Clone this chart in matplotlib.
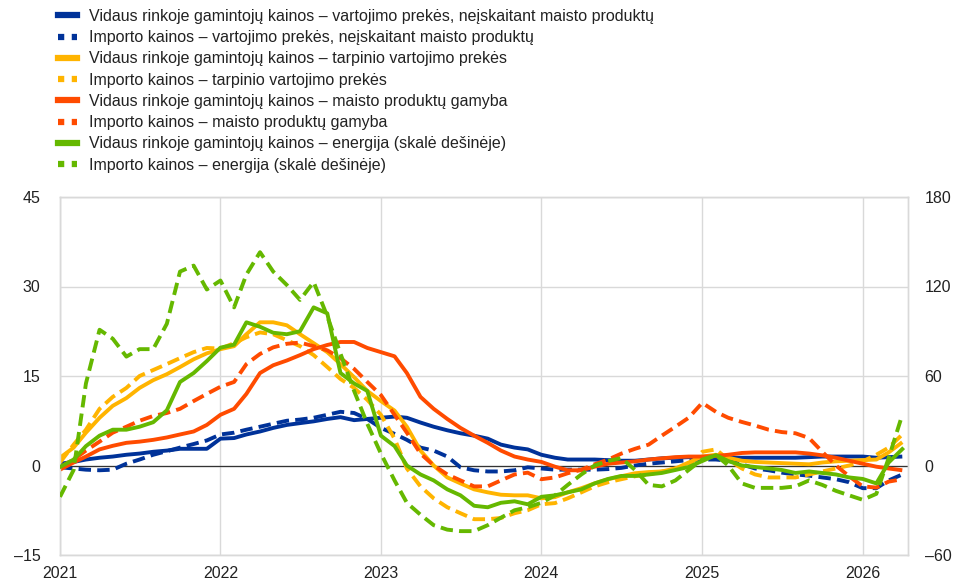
import matplotlib
matplotlib.use("Agg")
import matplotlib.pyplot as plt
import matplotlib.dates as mdates
from matplotlib.lines import Line2D
import pandas as pd

plt.rcParams['font.family'] = ['Liberation Sans', 'DejaVu Sans']

months = pd.date_range('2021-01-01', periods=64, freq='MS')

# Left scale (%)
dom_consumer = [0.3, 0.6, 1.0, 1.3, 1.5, 1.8, 2.0, 2.3, 2.5, 2.8, 2.8, 2.8,
                4.5, 4.6, 5.2, 5.7, 6.3, 6.8, 7.1, 7.4, 7.8, 8.1, 7.6, 7.8,
                8.0, 8.2, 8.0, 7.2, 6.5, 5.9, 5.4, 5.0, 4.5, 3.5, 3.0, 2.7,
                1.8, 1.3, 1.0, 1.0, 1.0, 0.9, 0.8, 0.8, 1.0, 1.2, 1.3, 1.4,
                1.3, 1.3, 1.3, 1.3, 1.3, 1.3, 1.3, 1.3, 1.4, 1.5, 1.5, 1.5,
                1.5, 1.3, 1.4, 1.5]
imp_consumer = [-0.3, -0.5, -0.7, -0.8, -0.7, 0.3, 1.0, 1.8, 2.4, 3.0, 3.6, 4.2,
                5.2, 5.5, 6.0, 6.5, 7.0, 7.5, 7.7, 8.0, 8.5, 9.0, 8.8, 7.8,
                6.3, 5.3, 4.3, 3.0, 2.5, 1.5, -0.3, -0.8, -1.0, -1.0, -0.8, -0.3,
                -0.5, -0.7, -0.7, -0.7, -0.7, -0.6, -0.4, 0.0, 0.3, 0.5, 0.7, 0.9,
                1.0, 1.0, 0.8, 0.2, -0.5, -0.8, -1.2, -1.5, -1.7, -2.0, -2.3, -2.8,
                -3.8, -3.8, -2.5, -1.5]
dom_intermediate = [1.3, 3.0, 5.5, 8.0, 10.0, 11.3, 13.0, 14.3, 15.3, 16.5, 17.8, 18.8,
                    19.5, 20.0, 22.0, 24.0, 24.0, 23.5, 22.0, 20.5, 19.0, 17.0, 14.8, 12.5,
                    10.8, 9.2, 6.5, 2.5, 0.0, -2.0, -3.0, -4.0, -4.5, -4.9, -5.0, -5.0,
                    -5.5, -5.3, -4.5, -3.8, -3.0, -2.3, -1.8, -1.3, -1.1, -1.0, -0.5, 0.5,
                    1.5, 1.8, 1.3, 0.8, 0.6, 0.5, 0.4, 0.3, 0.2, 0.5, 0.7, 0.8,
                    0.9, 1.0, 2.2, 3.9]
imp_intermediate = [0.5, 3.5, 6.0, 9.5, 11.5, 13.0, 15.0, 16.0, 17.0, 18.0, 19.0, 19.7,
                    19.6, 20.5, 21.5, 22.3, 22.0, 21.0, 20.0, 18.5, 16.5, 14.5, 13.0, 11.0,
                    8.5, 4.5, -0.5, -3.5, -5.5, -7.0, -8.0, -9.0, -9.0, -8.8, -8.0, -7.5,
                    -6.5, -6.3, -5.5, -4.5, -3.5, -2.8, -2.3, -1.8, -1.5, -1.0, -0.5, 0.0,
                    2.3, 2.7, 1.0, -0.5, -1.5, -2.0, -2.0, -2.0, -1.5, -1.0, -0.5, 0.0,
                    0.7, 1.8, 3.0, 5.2]
dom_food = [-0.7, 0.5, 1.5, 2.7, 3.3, 3.8, 4.0, 4.3, 4.7, 5.2, 5.7, 6.8,
            8.5, 9.5, 12.0, 15.5, 16.8, 17.6, 18.5, 19.5, 20.2, 20.7, 20.7, 19.7,
            19.0, 18.3, 15.5, 11.5, 9.5, 7.8, 6.3, 5.0, 3.8, 2.5, 1.5, 1.0,
            0.6, -0.2, -0.8, -0.8, -0.2, 0.3, 0.5, 0.7, 1.0, 1.2, 1.4, 1.5,
            1.5, 1.6, 1.8, 2.1, 2.2, 2.2, 2.2, 2.2, 2.0, 1.7, 1.3, 0.8,
            0.3, -0.2, -0.5, -0.8]
imp_food = [-0.3, 1.0, 2.5, 4.0, 5.5, 6.5, 7.5, 8.3, 8.8, 9.5, 10.8, 12.0,
            13.2, 14.0, 17.0, 18.7, 19.8, 20.4, 20.6, 20.0, 19.3, 18.0, 16.2, 14.0,
            11.8, 8.5, 5.5, 2.0, 0.0, -1.5, -2.5, -3.5, -3.5, -2.5, -1.5, -1.2,
            -2.3, -2.0, -1.3, -0.7, 0.2, 1.0, 2.0, 2.8, 3.5, 5.0, 6.5, 8.0,
            10.5, 9.0, 8.0, 7.3, 6.7, 6.0, 5.6, 5.4, 4.6, 2.3, 0.0, -1.8,
            -3.5, -3.7, -2.7, -2.3]
# Right scale (%)
dom_energy = [-1, 4, 13, 20, 24, 24, 26, 29, 37, 56, 62, 70,
              79, 81, 96, 93, 89, 88, 90, 106, 102, 62, 55, 50,
              20, 13, 0, -6, -10, -16, -20, -27, -28, -25, -24, -26,
              -21, -20, -18, -16, -12, -9, -7, -7, -6, -5, -3, -1,
              3, 7, 3, 0, -1, -2, -3, -5, -4, -5, -6, -8,
              -9, -12, 2, 11]
imp_energy = [-21, -3, 55, 91, 85, 73, 78, 78, 95, 130, 134, 118,
              124, 106, 128, 143, 130, 121, 111, 123, 100, 75, 50, 28,
              8, -10, -25, -33, -40, -43, -44, -44, -40, -35, -30, -28,
              -25, -20, -13, -6, 0, 3, 5, -3, -13, -14, -10, -3,
              4, 7, 0, -12, -15, -15, -15, -14, -10, -13, -17, -20,
              -23, -19, 5, 34]

labels = [
    "Vidaus rinkoje gamintojų kainos – vartojimo prekės, neįskaitant maisto produktų",
    "Importo kainos – vartojimo prekės, neįskaitant maisto produktų",
    "Vidaus rinkoje gamintojų kainos – tarpinio vartojimo prekės",
    "Importo kainos – tarpinio vartojimo prekės",
    "Vidaus rinkoje gamintojų kainos – maisto produktų gamyba",
    "Importo kainos – maisto produktų gamyba",
    "Vidaus rinkoje gamintojų kainos – energija (skalė dešinėje)",
    "Importo kainos – energija (skalė dešinėje)",
]

BLUE = '#003299'
YELLOW = '#FFB400'
ORANGE = '#FF4B00'
GREEN = '#65B800'
GRID = '#d9d9d9'
TXT = '#222222'
FS = 11.5

fig = plt.figure(figsize=(9.55, 5.84), dpi=100)
ax = fig.add_axes([60/955, 1-555/584, (908-60)/955, (555-197)/584])
ax2 = ax.twinx()

lw = 2.8
dash = (0, (3.2, 1.6))
left_series = [
    (dom_consumer, BLUE, '-'), (imp_consumer, BLUE, dash),
    (dom_intermediate, YELLOW, '-'), (imp_intermediate, YELLOW, dash),
    (dom_food, ORANGE, '-'), (imp_food, ORANGE, dash),
]
ax.axhline(0, color='#333333', lw=0.9, zorder=1)
for data, c, ls in left_series:
    ax.plot(months, data, color=c, lw=lw, linestyle=ls, zorder=3,
            solid_capstyle='butt', dash_capstyle='butt')
ax2.plot(months, dom_energy, color=GREEN, lw=lw, linestyle='-', zorder=3)
ax2.plot(months, imp_energy, color=GREEN, lw=lw, linestyle=dash, zorder=3,
         dash_capstyle='butt')

ax.set_ylim(-15, 45)
ax2.set_ylim(-60, 180)
ax.set_yticks([-15, 0, 15, 30, 45])
ax.set_yticklabels(['–15', '0', '15', '30', '45'])
ax2.set_yticks([-60, 0, 60, 120, 180])
ax2.set_yticklabels(['–60', '0', '60', '120', '180'])

ax.set_xlim(pd.Timestamp('2021-01-01'), pd.Timestamp('2026-04-14'))
ax.xaxis.set_major_locator(mdates.YearLocator())
ax.xaxis.set_major_formatter(mdates.DateFormatter('%Y'))

ax.grid(True, color=GRID, lw=1.0, zorder=0)
ax.set_axisbelow(True)
for a in (ax, ax2):
    for s in a.spines.values():
        s.set_color(GRID)
        s.set_linewidth(1.0)
    a.tick_params(length=0, labelsize=FS, colors=TXT)
ax.tick_params(axis='y', pad=14)
ax2.tick_params(axis='y', pad=12)
ax.tick_params(axis='x', pad=8)

handles = []
for c in [BLUE, YELLOW, ORANGE, GREEN]:
    handles.append(Line2D([], [], color=c, lw=4.5, linestyle='-'))
    handles.append(Line2D([], [], color=c, lw=4.5, linestyle=(0, (1.0, 1.2))))
fig.legend(handles, labels, loc='upper left', bbox_to_anchor=(58/955, 1-9/584),
           frameon=False, fontsize=FS, handlelength=1.2, handletextpad=0.75,
           labelspacing=0.39, borderaxespad=0, borderpad=0, labelcolor=TXT)

fig.savefig('out.png', dpi=100)
